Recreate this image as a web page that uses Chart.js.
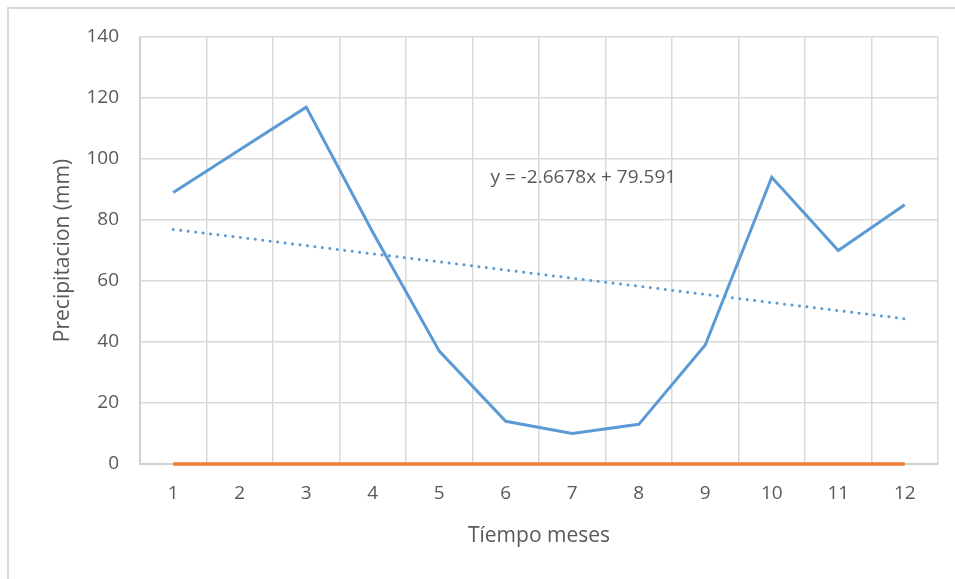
<!DOCTYPE html>
<html>
<head>
<meta charset="utf-8">
<script src="https://cdn.jsdelivr.net/npm/chart.js@4/dist/chart.umd.min.js"></script>
<style>
  html, body { margin: 0; padding: 0; background: #fff; }
  #frame { position: absolute; left: 7px; top: 7px; width: 960px; height: 590px;
           border-left: 2px solid #d9d9d9; border-top: 2px solid #d9d9d9; }
  #wrap { position: absolute; left: 0; top: 0; width: 955px; height: 579px; }
</style>
</head>
<body>
<div id="frame"></div>
<div id="wrap"><canvas id="precipChart"></canvas></div>
<script>
const months = ['1', '2', '3', '4', '5', '6', '7', '8', '9', '10', '11', '12'];
const precipitation = [89, 103, 117, 76, 37, 14, 10, 13, 39, 94, 70, 85];
const baseline = [0, 0, 0, 0, 0, 0, 0, 0, 0, 0, 0, 0];
// linear trend (matches the equation label)
const trendValues = [76.9, 74.3, 71.6, 68.9, 66.3, 63.6, 60.9, 58.3, 55.6, 52.9, 50.3, 47.6];
const trendLabel = 'y = -2.6678x + 79.591';
const yTicks = [0, 20, 40, 60, 80, 100, 120, 140];

const textColor = '#595959';
const gridColor = '#d9d9d9';
const fontFamily = "'Open Sans', 'Liberation Sans', sans-serif";

// draw the equation text inside the plot
const equationPlugin = {
    id: 'equation',
    afterDatasetsDraw(chart) {
        const ctx = chart.ctx;
        const x = chart.scales.x.getPixelForValue(4.77);
        const y = chart.scales.y.getPixelForValue(93.8);
        ctx.save();
        ctx.font = '19px ' + fontFamily;
        ctx.fillStyle = textColor;
        ctx.textAlign = 'left';
        ctx.textBaseline = 'middle';
        ctx.fillText(trendLabel, x, y);
        ctx.restore();
    }
};

new Chart(document.getElementById('precipChart'), {
    type: 'line',
    data: {
        labels: months,
        datasets: [
            {
                label: 'Precipitacion',
                data: precipitation,
                borderColor: '#5b9bd5',
                borderWidth: 3,
                pointRadius: 0,
                tension: 0,
                clip: false,
                order: 1
            },
            {
                label: 'Serie 2',
                data: baseline,
                borderColor: '#ed7d31',
                borderWidth: 3.5,
                pointRadius: 0,
                clip: false,
                order: 0
            },
            {
                label: 'Tendencia',
                data: trendValues,
                borderColor: '#5b9bd5',
                borderWidth: 3,
                borderDash: [0.01, 7.5],
                borderCapStyle: 'round',
                pointRadius: 0,
                clip: false,
                order: 2
            }
        ]
    },
    options: {
        responsive: true,
        maintainAspectRatio: false,
        animation: false,
        layout: { padding: { left: 0, right: 17, top: 37, bottom: 0 } },
        plugins: {
            legend: { display: false },
            tooltip: { enabled: false }
        },
        scales: {
            x: {
                offset: true,
                grid: { color: gridColor, lineWidth: 1.5, offset: true, drawTicks: false },
                border: { color: '#d0d0d0', width: 2 },
                ticks: { color: textColor, font: { family: fontFamily, size: 19 }, padding: 18, maxRotation: 0 },
                title: { display: true, text: 'Tíempo meses', color: textColor,
                         font: { family: fontFamily, size: 21 }, padding: { top: 14, bottom: 30 } },
                afterFit(scale) { scale.height = 579 - 464; }
            },
            y: {
                min: 0,
                max: 140,
                afterBuildTicks(scale) { scale.ticks = yTicks.map(v => ({ value: v })); },
                grid: { color: gridColor, lineWidth: 1.5, drawTicks: false },
                border: { color: '#d0d0d0', width: 2 },
                ticks: { color: textColor, font: { family: fontFamily, size: 19 }, padding: 21 },
                title: { display: true, text: 'Precipitacion (mm)', color: textColor,
                         font: { family: fontFamily, size: 21 }, padding: { top: 50 } },
                afterFit(scale) { scale.width = 140; }
            }
        }
    },
    plugins: [equationPlugin]
});
</script>
</body>
</html>
